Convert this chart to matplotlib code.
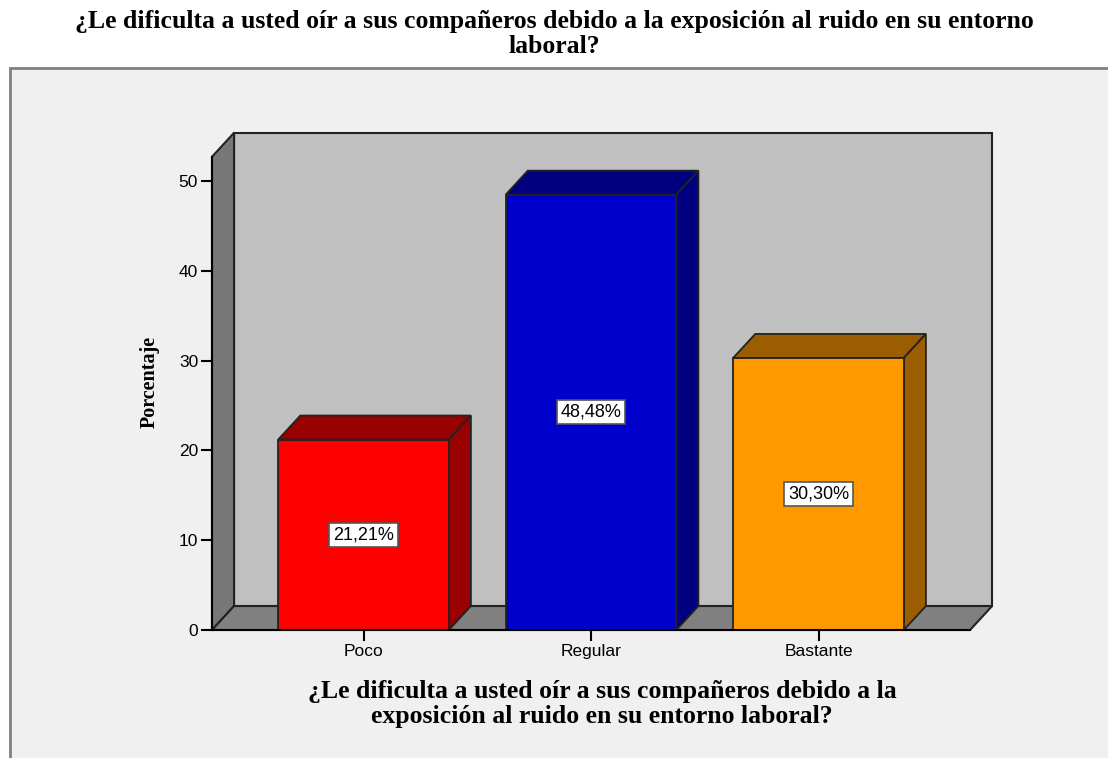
import matplotlib.pyplot as plt
from matplotlib.patches import Polygon, Rectangle

# Datos del gráfico
categorias = ['Poco', 'Regular', 'Bastante']
porcentajes = [21.21, 48.48, 30.30]
etiquetas = ['21,21%', '48,48%', '30,30%']
colores_frente = ['#FF0000', '#0000CC', '#FF9900']
colores_lado = ['#990000', '#000080', '#9C5C00']
yticks = [0, 10, 20, 30, 40, 50]

titulo = '¿Le dificulta a usted oír a sus compañeros debido a la exposición al ruido en su entorno\nlaboral?'
xlabel = '¿Le dificulta a usted oír a sus compañeros debido a la\nexposición al ruido en su entorno laboral?'

# Geometría del efecto 3D
ancho = 0.75
dx, dy = 0.097, 2.67
x0, x1 = -0.666, 2.666
ytop = 52.7

fig = plt.figure(figsize=(11.08, 7.58), dpi=100)
fig.patch.set_facecolor('white')

# panel de fondo gris claro
fig.patches.append(Rectangle((10 / 1108, -0.05), 1.1, 1 - 68 / 758 + 0.05,
                             transform=fig.transFigure, facecolor='#F0F0F0',
                             edgecolor='#808080', linewidth=2, zorder=-1))

fig.text(0.5, 1 - 34 / 758, titulo, ha='center', va='center', fontsize=18.5,
         fontweight='bold', family='Liberation Serif', linespacing=1.08)

ax = fig.add_axes([212 / 1108, 128 / 758, 780 / 1108, 497 / 758])
ax.set_facecolor('none')
ax.set_xlim(x0, x0 + 780 / 227.5)
ax.set_ylim(0, 497 / 8.98)

# paredes
ax.add_patch(Polygon([(x0 + dx, dy), (x1 + dx, dy), (x1 + dx, ytop + dy), (x0 + dx, ytop + dy)],
                     closed=True, facecolor='#C0C0C0', edgecolor='#222222', lw=1.5,
                     zorder=1, clip_on=False))
ax.add_patch(Polygon([(x0, 0), (x0, ytop), (x0 + dx, ytop + dy), (x0 + dx, dy)],
                     closed=True, facecolor='#777777', edgecolor='#222222', lw=1.5,
                     zorder=2, clip_on=False))
ax.add_patch(Polygon([(x0, 0), (x1, 0), (x1 + dx, dy), (x0 + dx, dy)],
                     closed=True, facecolor='#808080', edgecolor='#222222', lw=1.5,
                     zorder=2, clip_on=False))

# barras
for i, (v, cf, cl, et) in enumerate(zip(porcentajes, colores_frente, colores_lado, etiquetas)):
    l, r = i - ancho / 2, i + ancho / 2
    ax.add_patch(Polygon([(l, v), (r, v), (r + dx, v + dy), (l + dx, v + dy)],
                         closed=True, facecolor=cl, edgecolor='#222222', lw=1.3, zorder=3))
    ax.add_patch(Polygon([(r, 0), (r + dx, dy), (r + dx, v + dy), (r, v)],
                         closed=True, facecolor=cl, edgecolor='#222222', lw=1.3, zorder=3))
    ax.add_patch(Rectangle((l, 0), ancho, v, facecolor=cf, edgecolor='#222222', lw=1.3, zorder=4))
    ax.text(i, v / 2, et, ha='center', va='center', fontsize=13, family='Liberation Sans',
            zorder=5, bbox=dict(boxstyle='square,pad=0.2', facecolor='white',
                                edgecolor='#555555', lw=1.2))

for s in ['top', 'right']:
    ax.spines[s].set_visible(False)
ax.spines['left'].set_bounds(0, ytop)
ax.spines['bottom'].set_bounds(x0, x1)
for s in ['left', 'bottom']:
    ax.spines[s].set_linewidth(1.5)
    ax.spines[s].set_zorder(6)

ax.set_yticks(yticks)
ax.set_xticks(range(len(categorias)))
ax.set_xticklabels(categorias)
ax.tick_params(axis='both', direction='out', length=8, width=1.5, labelsize=12.5, pad=2)
for lab in ax.get_xticklabels() + ax.get_yticklabels():
    lab.set_family('Liberation Sans')

ax.set_ylabel('Porcentaje', fontsize=14.5, fontweight='bold', family='Liberation Serif', labelpad=14)
ax.set_xlabel(xlabel, fontsize=18.5, fontweight='bold', family='Liberation Serif',
              labelpad=15, linespacing=1.1)

fig.savefig('out.png', dpi=100)
